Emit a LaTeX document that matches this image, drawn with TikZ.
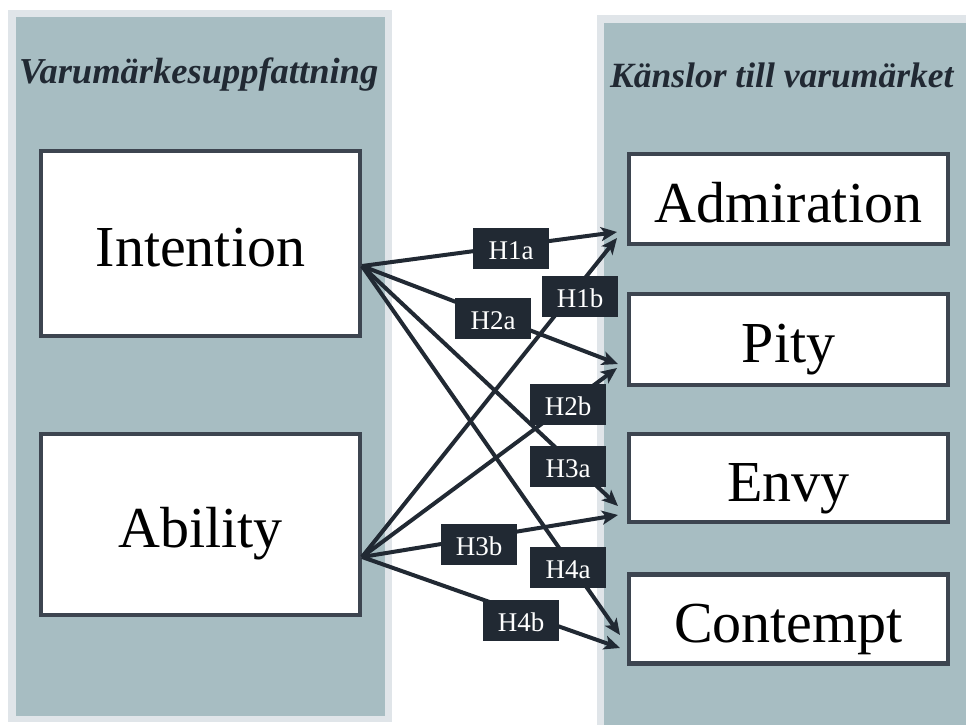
\documentclass[tikz,border=0pt]{standalone}
\usepackage{fontspec}
\setmainfont{Liberation Serif}
\usetikzlibrary{arrows.meta}
\definecolor{panelfill}{RGB}{167,189,194}
\definecolor{panelrim}{RGB}{224,229,233}
\definecolor{boxrim}{RGB}{61,69,80}
\definecolor{ink}{RGB}{33,41,51}
\tikzset{
  conceptbox/.style={draw=boxrim,line width=4.5pt,fill=white,inner sep=0pt,
    text height=46pt,text depth=0pt,
    font=\fontsize{58}{60}\selectfont,text=black},
  hyplabel/.style={fill=ink,text=white,inner sep=0pt,minimum width=76pt,minimum height=41pt,
    text height=22pt,text depth=0pt,
    font=\fontsize{27}{28}\selectfont},
  hyparrow/.style={draw=ink,line width=4pt,-{Stealth[length=16pt,width=14pt,inset=4pt]}},
  paneltitle/.style={font=\bfseries\itshape,text=ink,inner sep=0pt,anchor=base west}
}
\begin{document}
\begin{tikzpicture}[x=1pt,y=-1pt]
\useasboundingbox (0,0) rectangle (966,725);
\fill[white] (0,0) rectangle (966,725);
% panels
\fill[panelrim] (8,10) rectangle (392,722);
\fill[panelfill] (16,17) rectangle (385,716);
\fill[panelrim] (597,15) rectangle (966,725);
\fill[panelfill] (604,23) rectangle (966,725);
% titles
\node[paneltitle,font=\fontsize{36.5}{38}\selectfont\bfseries\itshape] (lt) at (19,83) {Varumärkesuppfattning};
\node[paneltitle,font=\fontsize{35.5}{37}\selectfont\bfseries\itshape] (rt) at (610,87) {Känslor till varumärket};
% concept boxes
\node[conceptbox,minimum width=319pt,minimum height=185pt] (int) at (200.5,243.5) {Intention};
\node[conceptbox,minimum width=319pt,minimum height=181pt] (abi) at (200.5,524.5) {Ability};
\node[conceptbox,minimum width=319pt,minimum height=90pt] (adm) at (788.5,199) {Admiration};
\node[conceptbox,minimum width=319pt,minimum height=91pt] (pit) at (788.5,339.5) {Pity};
\node[conceptbox,minimum width=319pt,minimum height=88pt] (env) at (788.5,478) {Envy};
\node[conceptbox,minimum width=319pt,minimum height=89pt] (con) at (788.5,619) {Contempt};
% connector ends
\coordinate (io) at (362,266);
\coordinate (ao) at (362,557);
\coordinate (t1a) at (617,232);
\coordinate (t1b) at (617,238);
\coordinate (t2a) at (618,364);
\coordinate (t2b) at (617,368);
\coordinate (t3a) at (618,506);
\coordinate (t3b) at (618,515);
\coordinate (t4a) at (620,635);
\coordinate (t4b) at (620,648);
% arrows
\draw[hyparrow] (io) -- (t1a);
\draw[hyparrow] (io) -- (t2a);
\draw[hyparrow] (io) -- (t3a);
\draw[hyparrow] (io) -- (t4a);
\draw[hyparrow] (ao) -- (t1b);
\draw[hyparrow] (ao) -- (t2b);
\draw[hyparrow] (ao) -- (t3b);
\draw[hyparrow] (ao) -- (t4b);
% labels
\node[hyplabel] (h1a) at (511,248) {H1a};
\node[hyplabel] (h1b) at (580,296) {H1b};
\node[hyplabel] (h2a) at (493,318) {H2a};
\node[hyplabel] (h2b) at (568,404) {H2b};
\node[hyplabel] (h3a) at (568,466) {H3a};
\node[hyplabel] (h3b) at (479,544) {H3b};
\node[hyplabel] (h4a) at (568,567) {H4a};
\node[hyplabel] (h4b) at (521,620) {H4b};
\end{tikzpicture}
\end{document}
